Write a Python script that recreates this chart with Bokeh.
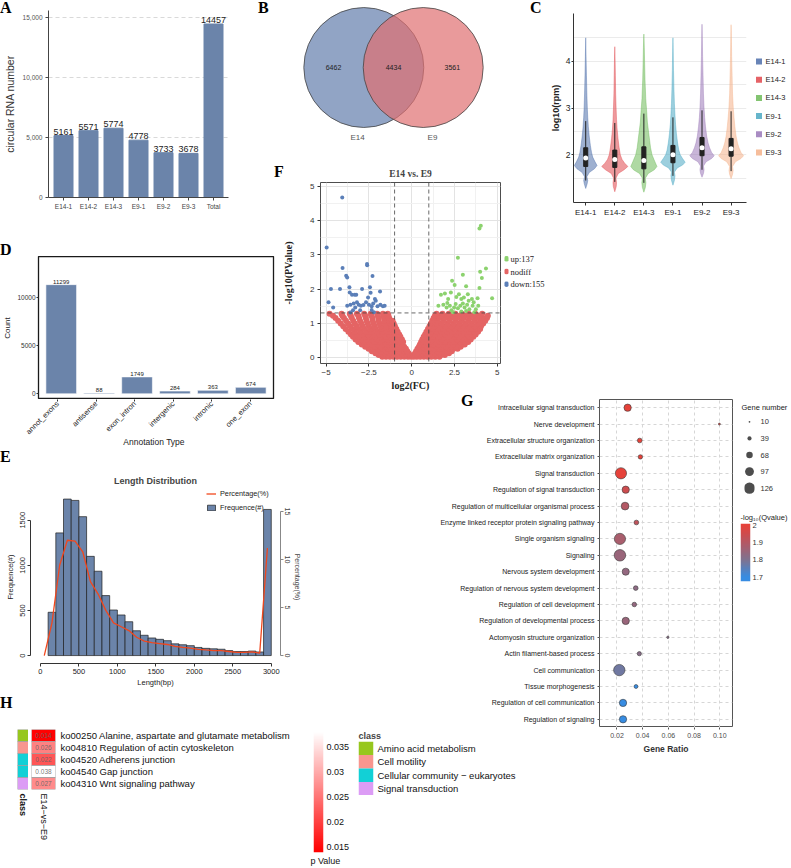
import math
import numpy as np
from bokeh.plotting import figure
from bokeh.layouts import row, column
from bokeh.models import (Div, Spacer, Range1d, FactorRange, FixedTicker, Legend,
                          LegendItem, NumeralTickFormatter, Span, LinearColorMapper,
                          LinearAxis, ColumnDataSource)
from bokeh.core.properties import value
from bokeh.embed import file_html
from bokeh.resources import INLINE

SANS = "Liberation Sans"
SERIF = "Liberation Serif"
BAR = "#6B84AA"

# ---------------- data ----------------
# A
a_cats = ["E14-1", "E14-2", "E14-3", "E9-1", "E9-2", "E9-3", "Total"]
a_vals = [5161, 5571, 5774, 4778, 3733, 3678, 14457]
# B
b_sets = ["E14", "E9"]
b_counts = [6462, 4434, 3561]   # E14 only, shared, E9 only
# C
c_names = ["E14-1", "E14-2", "E14-3", "E9-1", "E9-2", "E9-3"]
c_colors = ["#4E6FAA", "#E0474C", "#6DBA58", "#4BA8C2", "#9A78B8", "#F4B18A"]
c_levels = [
    [1.28, 1.38, 1.45, 1.53, 1.62, 1.70, 1.77, 1.85, 1.95, 2.05, 2.20, 2.40, 2.60, 2.80, 3.00, 3.30, 3.70, 4.10, 4.50],
    [1.21, 1.32, 1.40, 1.50, 1.60, 1.68, 1.75, 1.82, 1.90, 2.00, 2.15, 2.35, 2.55, 2.75, 3.00, 3.30, 3.70, 4.00, 4.31],
    [1.20, 1.30, 1.40, 1.50, 1.60, 1.68, 1.75, 1.85, 2.00, 2.15, 2.30, 2.50, 2.70, 2.90, 3.20, 3.60, 4.00, 4.30, 4.58],
    [1.35, 1.45, 1.55, 1.63, 1.72, 1.78, 1.84, 1.92, 2.00, 2.10, 2.25, 2.45, 2.65, 2.85, 3.10, 3.40, 3.80, 4.20, 4.50],
    [1.52, 1.60, 1.68, 1.76, 1.85, 1.92, 1.98, 2.05, 2.15, 2.25, 2.40, 2.60, 2.80, 3.00, 3.30, 3.70, 4.10, 4.50, 4.79],
    [1.49, 1.58, 1.66, 1.75, 1.85, 1.92, 1.98, 2.05, 2.15, 2.25, 2.40, 2.60, 2.80, 3.00, 3.30, 3.70, 4.10, 4.50, 4.78],
]
c_halfw = [
    [0, 0.05, 0.07, 0.04, 0.12, 0.30, 0.39, 0.32, 0.24, 0.20, 0.16, 0.12, 0.09, 0.07, 0.055, 0.04, 0.025, 0.012, 0],
    [0, 0.05, 0.06, 0.04, 0.12, 0.32, 0.45, 0.34, 0.25, 0.19, 0.15, 0.11, 0.08, 0.06, 0.045, 0.03, 0.02, 0.012, 0],
    [0, 0.05, 0.07, 0.05, 0.15, 0.36, 0.45, 0.38, 0.28, 0.23, 0.20, 0.16, 0.12, 0.10, 0.065, 0.04, 0.025, 0.015, 0],
    [0, 0.05, 0.07, 0.05, 0.15, 0.33, 0.42, 0.33, 0.25, 0.20, 0.16, 0.12, 0.09, 0.07, 0.05, 0.035, 0.02, 0.01, 0],
    [0, 0.05, 0.07, 0.05, 0.14, 0.33, 0.42, 0.33, 0.26, 0.21, 0.16, 0.12, 0.09, 0.07, 0.05, 0.035, 0.02, 0.01, 0],
    [0, 0.05, 0.07, 0.05, 0.15, 0.34, 0.43, 0.34, 0.27, 0.22, 0.17, 0.13, 0.10, 0.075, 0.05, 0.035, 0.02, 0.01, 0],
]
c_q1 = [1.75, 1.73, 1.70, 1.83, 1.98, 1.97]
c_med = [1.93, 1.90, 1.88, 2.00, 2.15, 2.13]
c_q3 = [2.15, 2.10, 2.17, 2.20, 2.37, 2.35]
c_lo = [1.45, 1.42, 1.40, 1.55, 1.68, 1.65]
c_hi = [2.72, 2.68, 2.88, 2.80, 2.95, 2.93]
# D
d_cats = ["annot_exons", "antisense", "exon_intron", "intergenic", "intronic", "one_exon"]
d_vals = [11299, 88, 1749, 284, 363, 674]
# E
e_bin_left = list(range(100, 3000, 100))
e_freq = [480, 1360, 1735, 1720, 1540, 1100, 935, 665, 505, 450, 375, 275, 225, 195, 180,
          165, 130, 120, 110, 90, 80, 75, 70, 55, 45, 45, 50, 40, 1620]
e_pct_x = [50] + [b + 50 for b in e_bin_left]
e_pct = [0, 3.4, 9.4, 12.0, 11.9, 10.8, 7.7, 6.4, 4.7, 3.4, 3.0, 2.6, 1.9, 1.5, 1.35, 1.25,
         1.15, 0.95, 0.85, 0.78, 0.65, 0.58, 0.52, 0.5, 0.42, 0.33, 0.33, 0.38, 0.25, 11.2]
# F
f_down = [(-4.06, 4.68), (-4.97, 3.22), (-4.04, 2.62), (-2.61, 2.73), (-2.6, 2.7), (-3.83, 2.39),
          (-3.77, 2.34), (-2.29, 2.38), (-4.72, 2.0), (-4.19, 2.0), (-3.64, 2.05), (-3.62, 1.9),
          (-2.9, 2.0), (-2.44, 2.05), (-1.85, 1.93), (-2.55, 1.75), (-4.86, 1.61), (-4.59, 1.46),
          (-3.49, 1.83), (-3.33, 1.83), (-3.24, 1.83), (-2.4, 1.89), (-2.15, 1.71), (-2.1, 1.66),
          (-3.77, 1.51), (-3.58, 1.54), (-3.39, 1.58), (-3.2, 1.61), (-3.1, 1.54), (-2.97, 1.51),
          (-2.82, 1.53), (-2.67, 1.61), (-2.5, 1.54), (-2.34, 1.5), (-2.25, 1.58), (-2.0, 1.5),
          (-1.83, 1.54), (-1.68, 1.5), (-1.58, 1.51), (-3.43, 1.38), (-3.3, 1.46), (-3.01, 1.38),
          (-2.34, 1.39), (-2.21, 1.32), (-3.58, 1.31)]
f_up = [(4.04, 3.85), (3.96, 3.77), (2.7, 2.92), (4.34, 2.6), (2.99, 2.42), (4.0, 2.51), (4.1, 2.32),
        (2.36, 2.24), (2.51, 2.12), (3.18, 2.08), (3.96, 2.03), (4.7, 1.73), (1.71, 1.83), (1.94, 1.87),
        (2.13, 1.71), (2.29, 1.9), (2.61, 1.77), (2.76, 1.85), (2.9, 1.71), (3.05, 1.75), (3.28, 1.85),
        (3.52, 1.71), (3.85, 1.73), (1.56, 1.51), (1.85, 1.54), (2.04, 1.46), (2.23, 1.51), (2.32, 1.38),
        (2.48, 1.46), (2.57, 1.56), (2.7, 1.44), (2.84, 1.51), (2.99, 1.58), (3.09, 1.46), (3.24, 1.54),
        (3.37, 1.41), (3.56, 1.51), (3.75, 1.41), (3.89, 1.51), (2.42, 1.32), (2.9, 1.34), (3.18, 1.36),
        (3.66, 1.32), (2.08, 1.59), (3.33, 1.66), (3.62, 1.61)]
f_nodiff_rows = [
    (0.02, [-1.72, -1.5, -1.28, -1.06, -0.85, -0.64, -0.43, -0.22, -0.04, 0.12, 0.3, 0.5, 0.71, 0.93, 1.15, 1.38, 1.62]),
    (0.07, [-1.93, -1.66, -1.4, -1.15, -0.92, -0.7, -0.48, -0.27, -0.12, 0.12, 0.3, 0.52, 0.75, 0.98, 1.22, 1.47, 1.72, 1.94]),
    (0.12, [-2.12, -1.86, -1.58, -1.3, -1.04, -0.8, -0.58, -0.36, -0.18, 0.2, 0.4, 0.62, 0.86, 1.1, 1.36, 1.62, 1.9, 2.18]),
    (0.18, [-2.33, -2.05, -1.76, -1.48, -1.2, -0.94, -0.7, -0.46, -0.26, 0.26, 0.48, 0.72, 0.97, 1.23, 1.5, 1.78, 2.06, 2.34]),
    (0.25, [-2.52, -2.24, -1.95, -1.66, -1.38, -1.1, -0.84, -0.58, -0.34, 0.34, 0.56, 0.8, 1.06, 1.33, 1.6, 1.88, 2.16, 2.44, 2.68]),
    (0.31, [-2.72, -2.42, -2.12, -1.82, -1.53, -1.25, -0.97, -0.7, -0.44, 0.42, 0.66, 0.92, 1.18, 1.45, 1.73, 2.01, 2.3, 2.58, 2.86]),
    (0.38, [-2.92, -2.6, -2.3, -2.0, -1.7, -1.41, -1.12, -0.84, -0.57, 0.48, 0.74, 1.0, 1.27, 1.55, 1.83, 2.12, 2.41, 2.7, 2.98, 3.1]),
    (0.45, [-3.12, -2.8, -2.48, -2.17, -1.86, -1.56, -1.27, -0.98, -0.7, -0.5, 0.55, 0.82, 1.1, 1.38, 1.67, 1.96, 2.25, 2.55, 2.85, 3.14, 3.3]),
    (0.52, [-3.28, -2.96, -2.64, -2.32, -2.0, -1.7, -1.4, -1.11, -0.83, -0.57, 0.62, 0.9, 1.18, 1.47, 1.76, 2.06, 2.36, 2.66, 2.96, 3.25, 3.45]),
    (0.60, [-3.43, -3.1, -2.78, -2.46, -2.14, -1.83, -1.52, -1.22, -0.93, -0.66, 0.7, 0.98, 1.27, 1.57, 1.87, 2.17, 2.48, 2.79, 3.1, 3.38, 3.6]),
    (0.67, [-3.55, -3.2, -2.86, -2.53, -2.21, -1.9, -1.59, -1.29, -1.0, -0.73, 0.78, 1.06, 1.36, 1.66, 1.97, 2.28, 2.6, 2.92, 3.24, 3.52, 3.74]),
    (0.75, [-3.7, -3.34, -3.0, -2.66, -2.33, -2.01, -1.7, -1.39, -1.09, -0.82, 0.86, 1.15, 1.45, 1.76, 2.08, 2.4, 2.72, 3.04, 3.36, 3.66, 3.88]),
    (0.83, [-3.86, -3.48, -3.12, -2.77, -2.43, -2.1, -1.77, -1.46, -1.16, -0.9, 0.95, 1.25, 1.56, 1.88, 2.2, 2.53, 2.86, 3.19, 3.52, 3.82, 4.0]),
    (0.91, [-4.0, -3.6, -3.22, -2.86, -2.5, -2.16, -1.83, -1.51, -1.22, -0.98, 1.04, 1.34, 1.66, 1.99, 2.32, 2.66, 3.0, 3.34, 3.68, 4.05]),
    (0.99, [-4.15, -3.72, -3.32, -2.94, -2.57, -2.22, -1.88, -1.56, -1.26, -1.05, 1.12, 1.43, 1.76, 2.1, 2.45, 2.8, 3.15, 3.5, 3.85, 4.18]),
    (1.07, [-4.3, -3.84, -3.42, -3.02, -2.64, -2.28, -1.93, -1.6, -1.3, -1.12, 1.2, 1.52, 1.86, 2.21, 2.57, 2.93, 3.3, 3.66, 4.0, 4.3]),
    (1.15, [-4.45, -3.96, -3.5, -3.08, -2.68, -2.3, -1.95, -1.62, -1.32, 1.28, 1.6, 1.95, 2.3, 2.66, 3.03, 3.4, 3.78, 4.16, 4.4]),
    (1.22, [-4.6, -4.05, -3.56, -3.12, -2.72, -2.35, -1.98, -1.64, -1.36, 1.36, 1.7, 2.06, 2.43, 2.8, 3.18, 3.56, 3.95, 4.45]),
    (1.28, [-4.8, -4.1, -3.62, -3.2, -2.78, -2.4, -2.02, -1.68, -1.4, 1.45, 1.8, 2.17, 2.55, 2.94, 3.33, 3.72, 4.12]),
]
f_legend = ["up:137", "nodiff", "down:155"]
# G
g_terms = ["Intracellular signal transduction", "Nerve development",
           "Extracellular structure organization", "Extracellular matrix organization",
           "Signal transduction", "Regulation of signal transduction",
           "Regulation of multicellular organismal process",
           "Enzyme linked receptor protein signaling pathway", "Single organism signaling",
           "Signaling", "Nervous system development", "Regulation of nervous system development",
           "Regulation of cell development", "Regulation of developmental process",
           "Actomyosin structure organization", "Actin filament-based process",
           "Cell communication", "Tissue morphogenesis", "Regulation of cell communication",
           "Regulation of signaling"]
g_ratio = [0.0283, 0.0997, 0.0377, 0.0382, 0.0231, 0.0268, 0.0263, 0.0351, 0.0223, 0.0223,
           0.0268, 0.0346, 0.0335, 0.0268, 0.0596, 0.0374, 0.0218, 0.0348, 0.0247, 0.0247]
g_count = [78, 13, 46, 42, 126, 78, 84, 46, 126, 130, 76, 46, 44, 78, 17, 40, 128, 36, 78, 78]
g_q = [2.0, 1.97, 2.0, 2.0, 2.0, 1.95, 1.9, 1.92, 1.88, 1.85, 1.84, 1.83, 1.84, 1.85, 1.82,
       1.82, 1.78, 1.7, 1.7, 1.7]
g_size_legend = [10, 39, 68, 97, 126]
g_q_ticks = [1.7, 1.8, 1.9, 2.0]
# H
h_terms = ["ko00250 Alanine, aspartate and glutamate metabolism",
           "ko04810 Regulation of actin cytoskeleton",
           "ko04520 Adherens junction", "ko04540 Gap junction", "ko04310 Wnt signaling pathway"]
h_class = ["Amino acid metabolism", "Cell motility", "Cellular community \u2212 eukaryotes",
           "Cellular community \u2212 eukaryotes", "Signal transduction"]
h_p = [0.014, 0.026, 0.022, 0.038, 0.027]
h_classes = ["Amino acid metabolism", "Cell motility", "Cellular community \u2212 eukaryotes",
             "Signal transduction"]
h_class_colors = ["#97C71E", "#F8968F", "#12D0D6", "#DC9CF5"]
h_col = "E14\u2212vs\u2212E9"
h_p_ticks = [0.015, 0.02, 0.025, 0.03, 0.035]


# ---------------- helpers ----------------
def mk(w, h, mb, **kw):
    p = figure(width=w, height=h, output_backend="svg", toolbar_location=None,
               min_border_left=mb[0], min_border_right=mb[1],
               min_border_top=mb[2], min_border_bottom=mb[3], **kw)
    p.background_fill_color = None
    p.border_fill_color = None
    p.outline_line_color = None
    p.grid.visible = False
    return p


def W(p):
    # wrap a figure so that rows/columns do not align its borders with its siblings
    return column(p)


def sp(w, h):
    return Spacer(width=w, height=h)


def style_axis(ax, font=SANS, size="7px", color="#333", line=None, tick=None, tick_out=0,
               standoff=3, label_size=None, label_style="normal", label_color="#222",
               label_standoff=3, label_font=None):
    ax.major_label_text_font = font
    ax.major_label_text_font_size = size
    ax.major_label_text_color = color
    ax.axis_line_color = line
    ax.major_tick_line_color = tick if tick_out else None
    ax.major_tick_out = tick_out
    ax.major_tick_in = 0
    ax.minor_tick_line_color = None
    ax.major_label_standoff = standoff
    ax.axis_label_text_font = label_font or font
    ax.axis_label_text_font_size = label_size or size
    ax.axis_label_text_font_style = label_style
    ax.axis_label_text_color = label_color
    ax.axis_label_standoff = label_standoff


def side_legend(fw, fh, labels, mbr, mbt=0, mbl=0, mbb=0, font=SANS, size="7.5px",
                color="#222", standoff=3, **kw):
    p = mk(mbl + fw + mbr, mbt + fh + mbb, (mbl, mbr, mbt, mbb),
           x_range=Range1d(-1, 1), y_range=FactorRange(*reversed(labels)),
           x_axis_location=None, y_axis_location="right", **kw)
    style_axis(p.yaxis[0], font=font, size=size, color=color, standoff=standoff)
    return p


def ramp(stops, n=256):
    out = []
    for i in range(n):
        t = i / (n - 1)
        for (t0, c0), (t1, c1) in zip(stops[:-1], stops[1:]):
            if t0 <= t <= t1:
                f = (t - t0) / (t1 - t0) if t1 > t0 else 0
                rgb = [round(a + (b - a) * f) for a, b in zip(c0, c1)]
                out.append("#%02x%02x%02x" % tuple(rgb))
                break
    return out


def letter(t, w=16, h=16, mt=0, mr=0, mb=0, ml=0):
    return Div(text=t, width=w, height=h, margin=(mt, mr, mb, ml),
               styles={"font-family": SERIF, "font-weight": "bold", "font-size": "16px",
                       "line-height": "16px", "color": "#000"})


# ---------------- A ----------------
pa = mk(232, 217, (48, 4, 10, 20),
        x_range=FactorRange(*a_cats, range_padding=0.1, range_padding_units="absolute"),
        y_range=Range1d(0, 15583))
pa.ygrid.visible = True
pa.ygrid.grid_line_color = "#d9d9d9"
pa.ygrid.grid_line_dash = "4 3"
pa.vbar(x=a_cats, top=a_vals, width=0.76, fill_color=BAR, line_color=BAR)
pa.text(x=a_cats, y=a_vals, text=[str(v) for v in a_vals], text_align="center",
        text_baseline="bottom", y_offset=-1, text_font=value(SANS), text_font_size="9px",
        text_color="#222")
ya = pa.yaxis[0]
ya.ticker = FixedTicker(ticks=[0, 5000, 10000, 15000])
ya.formatter = NumeralTickFormatter(format="0,0")
ya.axis_label = "circular RNA number"
style_axis(ya, size="6.5px", color="#555", line="#444", tick="#444", tick_out=3, standoff=3,
           label_size="10.5px", label_color="#333", label_standoff=4)
style_axis(pa.xaxis[0], size="6.5px", color="#444", line="#444", tick="#444", tick_out=3, standoff=2)

# ---------------- B ----------------
pb = mk(200, 150, (0, 0, 0, 0), x_range=Range1d(-1.717, 1.617),
        y_range=Range1d(-1.383, 1.117), x_axis_location=None, y_axis_location=None)
sep = 0.495
pb.circle(x=[-sep], y=[0], radius=1, fill_color="#627EAC", fill_alpha=0.7,
          line_color="#444", line_width=0.8)
pb.circle(x=[sep], y=[0], radius=1, fill_color="#DF6F70", fill_alpha=0.7,
          line_color="#444", line_width=0.8)
pb.text(x=[-2 * sep - 0.01, 0, 2 * sep - 0.01], y=[0, 0, 0], text=[str(v) for v in b_counts],
        text_align="center", text_baseline="middle", text_font=value(SANS),
        text_font_size="7px", text_color="#222")
pb.text(x=[-0.6, 0.65], y=[-1.17, -1.17], text=b_sets, text_align="center",
        text_baseline="middle", text_font=value(SANS), text_font_size="8px", text_color="#555")

# ---------------- C ----------------
pc = mk(208, 222, (23, 9, 13, 20), x_range=Range1d(-0.42, 5.53), y_range=Range1d(0.98, 5.02))
pc.ygrid.visible = True
pc.ygrid.ticker = FixedTicker(ticks=[1.5, 2, 2.5, 3, 3.5, 4, 4.5])
pc.ygrid.grid_line_color = "#ebebeb"
for i, (ys, ws) in enumerate(zip(c_levels, c_halfw)):
    xs = [i + w for w in ws] + [i - w for w in reversed(ws)]
    yy = list(ys) + list(reversed(ys))
    pc.patch(xs, yy, fill_color=c_colors[i], fill_alpha=0.55, line_color=c_colors[i],
             line_alpha=0.7, line_width=0.6)
idx = list(range(len(c_names)))
pc.segment(x0=idx, x1=idx, y0=c_lo, y1=c_hi, line_color="#222", line_width=1)
pc.vbar(x=idx, bottom=c_q1, top=c_q3, width=0.14, fill_color="#222", line_color="#222")
pc.scatter(x=idx, y=c_med, size=5, fill_color="white", line_color=None)
xc = pc.xaxis[0]
xc.ticker = FixedTicker(ticks=idx)
xc.major_label_overrides = {i: n for i, n in enumerate(c_names)}
style_axis(xc, size="8px", color="#222", line="#333", tick="#333", tick_out=3, standoff=2)
yc = pc.yaxis[0]
yc.ticker = FixedTicker(ticks=[2, 3, 4])
yc.axis_label = "log10(rpm)"
style_axis(yc, size="8.5px", color="#222", line="#333", tick="#333", tick_out=2, standoff=1,
           label_size="9px", label_style="bold", label_standoff=2)

pcl = side_legend(7, 109, c_names, mbr=29, size="7.5px", color="#222", standoff=3)
pcl.scatter(x=[0] * 6, y=c_names, marker="square", size=6, fill_color=c_colors,
            fill_alpha=0.85, line_color=None)

# ---------------- D ----------------
d_xr = FactorRange(*d_cats, range_padding=0.1, range_padding_units="absolute")
pdd = mk(278, 143, (34, 5, 0, 0), x_range=d_xr, y_range=Range1d(-590, 14210),
         x_axis_location=None)
pdd.outline_line_color = "#1a1a1a"
pdd.outline_line_width = 1.3
pdd.vbar(x=d_cats, top=d_vals, width=0.81, fill_color=BAR, line_color="white", line_width=0.6)
pdd.text(x=d_cats, y=d_vals, text=[str(v) for v in d_vals], text_align="center",
         text_baseline="bottom", y_offset=-1, text_font=value(SANS), text_font_size="6px",
         text_color="#222")
yd = pdd.yaxis[0]
yd.ticker = FixedTicker(ticks=[0, 5000, 10000])
yd.axis_label = "Count"
style_axis(yd, size="6.5px", color="#333", line=None, tick="#333", tick_out=2,
           standoff=1, label_size="8px", label_standoff=2)
pdx = mk(278, 47, (34, 5, 0, 46), x_range=d_xr, y_range=Range1d(0, 1), y_axis_location=None)
xd = pdx.xaxis[0]
xd.axis_label = "Annotation Type"
xd.major_label_orientation = math.pi / 4
style_axis(xd, size="7.5px", color="#222", line=None, tick="#333", tick_out=2,
           standoff=1, label_size="8.5px", label_standoff=-5)

# ---------------- E ----------------
E_LINE = "#F2471D"
pe = mk(303, 224, (30, 21, 22, 29), x_range=Range1d(-129, 3120), y_range=Range1d(-88, 1830))
pe.extra_y_ranges = {"pct": Range1d(-0.83, 17.18)}
pe.title.text = "Length Distribution"
pe.title.align = "center"
pe.title.text_font = SANS
pe.title.text_font_size = "9px"
pe.title.text_font_style = "bold"
pe.title.standoff = 10
e_bars = pe.quad(left=e_bin_left, right=[b + 100 for b in e_bin_left], bottom=0, top=e_freq,
                 fill_color=BAR, line_color="#1f1f1f", line_width=0.7)
e_line = pe.line(x=e_pct_x, y=e_pct, y_range_name="pct", line_color=E_LINE, line_width=1.3)
ye = pe.yaxis[0]
ye.bounds = (0, 1500)
ye.ticker = FixedTicker(ticks=[0, 500, 1000, 1500])
ye.major_label_orientation = "vertical"
ye.axis_label = "Frequence(#)"
style_axis(ye, size="7.5px", color="#222", line="#333", tick="#333", tick_out=3, standoff=2,
           label_size="7.5px", label_standoff=3)
xe = pe.xaxis[0]
xe.bounds = (0, 3000)
xe.ticker = FixedTicker(ticks=[0, 500, 1000, 1500, 2000, 2500, 3000])
xe.axis_label = "Length(bp)"
style_axis(xe, size="7.5px", color="#222", line="#333", tick="#333", tick_out=3, standoff=2,
           label_size="7.5px", label_standoff=1)
re_ = LinearAxis(y_range_name="pct", bounds=(0, 15), ticker=FixedTicker(ticks=[0, 5, 10, 15]),
                 axis_label="Percentage(%)")
re_.major_label_orientation = "vertical"
style_axis(re_, size="7px", color="#444", line="#888", tick="#888", tick_out=3, standoff=1,
           label_size="7px", label_color="#444", label_standoff=1)
pe.add_layout(re_, "right")
e_leg = Legend(items=[LegendItem(label="Percentage(%)", renderers=[e_line]),
                      LegendItem(label="Frequence(#)", renderers=[e_bars])],
               location=(176, 151), glyph_width=10, glyph_height=7, label_height=10, spacing=4,
               label_standoff=4, padding=0, margin=0, border_line_color=None,
               background_fill_alpha=0, label_text_font=SANS, label_text_font_size="7.3px",
               label_text_color="#222")
pe.add_layout(e_leg)

# ---------------- F ----------------
F_ND, F_UP, F_DOWN = "#E46464", "#8CD26E", "#5B7FB8"
pf = mk(224, 233, (36, 4, 22, 30), x_range=Range1d(-5.33, 5.19), y_range=Range1d(-0.18, 5.12))
pf.title.text = "E14 vs. E9"
pf.title.align = "center"
pf.title.text_font = SERIF
pf.title.text_font_size = "9.5px"
pf.title.text_font_style = "bold"
pf.title.standoff = 7
pf.outline_line_color = "#4d4d4d"
pf.outline_line_width = 1
pf.background_fill_color = "white"
fx_t = FixedTicker(ticks=[-5, -2.5, 0, 2.5, 5], minor_ticks=[-3.75, -1.25, 1.25, 3.75])
fy_t = FixedTicker(ticks=[0, 1, 2, 3, 4, 5], minor_ticks=[0.5, 1.5, 2.5, 3.5, 4.5])
pf.xaxis[0].ticker = fx_t
pf.yaxis[0].ticker = fy_t
for g, t in ((pf.xgrid[0], fx_t), (pf.ygrid[0], fy_t)):
    g.visible = True
    g.ticker = t
    g.grid_line_color = "#e3e3e3"
    g.minor_grid_line_color = "#f1f1f1"
nd_x = [x for y, xs in f_nodiff_rows for x in xs]
nd_y = [y for y, xs in f_nodiff_rows for x in xs]
pf.scatter(x=nd_x, y=nd_y, size=6, fill_color=F_ND, line_color=None)
pf.scatter(x=[p[0] for p in f_up], y=[p[1] for p in f_up], size=4, fill_color=F_UP, line_color=None)
pf.scatter(x=[p[0] for p in f_down], y=[p[1] for p in f_down], size=4, fill_color=F_DOWN,
           line_color=None)
for loc, dim in ((-1, "height"), (1, "height"), (1.301, "width")):
    pf.add_layout(Span(location=loc, dimension=dim, line_color="#444", line_dash="4 3",
                       line_width=0.8))
pf.xaxis[0].axis_label = "log2(FC)"
style_axis(pf.xaxis[0], size="8px", color="#333", line=None, tick="#333", tick_out=3,
           standoff=2, label_size="10px", label_style="bold", label_font=SERIF, label_standoff=2)
pf.yaxis[0].axis_label = "-log10(PValue)"
style_axis(pf.yaxis[0], size="8px", color="#333", line=None, tick="#333", tick_out=3,
           standoff=2, label_size="10px", label_style="bold", label_font=SERIF, label_standoff=13)

pfl = side_legend(6, 38, f_legend, mbr=37, font=SERIF, size="8.5px", color="#222", standoff=2)
pfl.scatter(x=[0, 0, 0], y=f_legend, size=5.5, fill_color=[F_UP, F_ND, F_DOWN], line_color=None)

# ---------------- G ----------------
g_pal = ramp([(0.0, (55, 140, 226)), (0.33, (126, 115, 145)), (0.67, (180, 88, 100)),
              (1.0, (230, 66, 58))])
g_mapper = LinearColorMapper(palette=g_pal, low=1.7, high=2.0)


def gsize(n):
    return 0.95 + 0.0815 * n


g_xr = Range1d(0.0064, 0.1099)
g_xt = FixedTicker(ticks=[0.02, 0.04, 0.06, 0.08, 0.10])
pg = mk(303, 328, (168, 2, 0, 0), x_range=g_xr, y_range=FactorRange(*reversed(g_terms)),
        x_axis_location=None)
pg.outline_line_color = "#555"
pg.xgrid[0].ticker = g_xt
for g in (pg.xgrid[0], pg.ygrid[0]):
    g.visible = True
    g.grid_line_color = "#d6d6d6"
    g.grid_line_dash = "3 3"
gsrc = ColumnDataSource(dict(x=g_ratio, y=g_terms, s=[gsize(n) for n in g_count], q=g_q))
pg.scatter(x="x", y="y", size="s", source=gsrc,
           fill_color={"field": "q", "transform": g_mapper}, line_color="#3a3a3a",
           line_width=0.6)
style_axis(pg.yaxis[0], size="7px", color="#1a1a1a", line=None, tick="#555", tick_out=2,
           standoff=3)

pgx = mk(149, 28, (8, 8, 0, 27), x_range=g_xr, y_range=Range1d(0, 1), y_axis_location=None)
xg = pgx.xaxis[0]
xg.ticker = g_xt
xg.formatter = NumeralTickFormatter(format="0.00")
xg.axis_label = "Gene Ratio"
style_axis(xg, size="7px", color="#4d4d4d", line=None, tick="#555", tick_out=2, standoff=3,
           label_size="8.5px", label_style="bold", label_color="#333", label_standoff=3)

pgs = side_legend(10, 85, [str(v) for v in g_size_legend], mbr=37, mbt=12, mbl=8,
                  size="7.5px", color="#333", standoff=6)
pgs.title.text = "Gene number"
pgs.title.text_font = SANS
pgs.title.text_font_size = "7.5px"
pgs.title.text_font_style = "normal"
pgs.title.text_color = "#222"
pgs.title.offset = -3
pgs.title.standoff = 3
pgs.scatter(x=[0] * len(g_size_legend), y=[str(v) for v in g_size_legend],
            size=[gsize(v) for v in g_size_legend], fill_color="#4d4d4d", line_color=None)

g_lo, g_hi = 1.675, 2.012
pgc = mk(55, 78, (4, 41, 18, 2), x_range=Range1d(0, 1), y_range=Range1d(g_lo, g_hi),
         x_axis_location=None, y_axis_location="right")
pgc.title.text = "-log\u2081\u2080(Qvalue)"
pgc.title.text_font = SANS
pgc.title.text_font_size = "7.5px"
pgc.title.text_font_style = "normal"
pgc.title.text_color = "#222"
pgc.title.standoff = 3
pgc.image(image=[np.linspace(g_lo, g_hi, 120).reshape(-1, 1)], x=0, y=g_lo, dw=1,
          dh=g_hi - g_lo, color_mapper=g_mapper)
ygc = pgc.yaxis[0]
ygc.ticker = FixedTicker(ticks=g_q_ticks)
ygc.major_label_overrides = {2: "2"}
style_axis(ygc, size="7.5px", color="#333", standoff=2)

# ---------------- H ----------------
h_pal = ramp([(0.0, (255, 0, 0)), (1.0, (255, 255, 255))])
h_lo, h_hi = 0.0138, 0.038
h_mapper = LinearColorMapper(palette=h_pal, low=h_lo, high=h_hi)

phc = mk(11, 90, (0, 0, 0, 30), x_range=FactorRange("class"),
         y_range=FactorRange(*reversed(h_terms)), y_axis_location=None)
cmap = dict(zip(h_classes, h_class_colors))
phc.rect(x=["class"] * len(h_terms), y=h_terms, width=1, height=1,
         fill_color=[cmap[c] for c in h_class], line_color="#a0a0a0", line_width=0.8)
xhc = phc.xaxis[0]
xhc.major_label_orientation = -math.pi / 2
style_axis(xhc, size="9px", color="#111", standoff=4)
xhc.major_label_text_font_style = "bold"

ph = mk(279, 117, (0, 255, 0, 57), x_range=FactorRange(h_col),
        y_range=FactorRange(*reversed(h_terms)), y_axis_location="right")
hsrc = ColumnDataSource(dict(x=[h_col] * len(h_terms), y=h_terms, p=h_p,
                             t=["%.3f" % v for v in h_p]))
ph.rect(x="x", y="y", width=1, height=1, source=hsrc,
        fill_color={"field": "p", "transform": h_mapper}, line_color="#a0a0a0", line_width=0.8)
ph.text(x="x", y="y", text="t", source=hsrc, text_align="center", text_baseline="middle",
        text_font=value(SANS), text_font_size="6.5px", text_color="#666", text_alpha=0.9)
xh = ph.xaxis[0]
xh.major_label_orientation = -math.pi / 2
style_axis(xh, size="9px", color="#111", standoff=4)
style_axis(ph.yaxis[0], size="9.5px", color="#111", standoff=5)

phb = mk(47, 140, (3, 34, 4, 15), x_range=Range1d(0, 1), y_range=Range1d(h_lo, h_hi),
         x_axis_location=None, y_axis_location="right", title_location="below")
phb.image(image=[np.linspace(h_lo, h_hi, 160).reshape(-1, 1)], x=0, y=h_lo, dw=1,
          dh=h_hi - h_lo, color_mapper=h_mapper)
phb.title.text = "p Value"
phb.title.text_font = SANS
phb.title.text_font_size = "9px"
phb.title.text_font_style = "normal"
phb.title.text_color = "#111"
phb.title.offset = -3
phb.title.standoff = 2
yhb = phb.yaxis[0]
yhb.ticker = FixedTicker(ticks=h_p_ticks)
yhb.major_label_overrides = {v: ("%g" % v) for v in h_p_ticks}
style_axis(yhb, size="9px", color="#111", standoff=3)

phl = side_legend(15, 57, h_classes, mbr=148, mbt=11, size="9.5px", color="#111", standoff=4)
phl.title.text = "class"
phl.title.text_font = SANS
phl.title.text_font_size = "9px"
phl.title.text_font_style = "bold"
phl.title.standoff = 2
phl.rect(x=[0] * len(h_classes), y=h_classes, width=2, height=1, fill_color=h_class_colors,
         line_color=None)

# ---------------- layout ----------------
a_block = row(column(letter("A", mb=-16), W(pa)), sp(26, 1),
              column(letter("B", 20), sp(1, 148), letter("F", 10, ml=16, mr=-4)))
L1 = column(a_block, sp(1, 25), letter("D", mb=-2), W(pdd))
b_row = row(sp(10, 1), W(pb), sp(40, 1), letter("C", 17))
f_row = row(W(pf), column(sp(1, 92), W(pfl)))
g_row = row(sp(181, 1), letter("G", mb=-10))
midcol = column(b_row, sp(1, 10), f_row, g_row)
rightcol = row(W(pc), column(sp(1, 52), W(pcl)))
band1 = row(L1, midcol, rightcol)

L2 = column(W(pdx), sp(1, 3), letter("E"), sp(1, 3), W(pe), sp(1, 3), letter("H"), sp(1, 16))
band2 = row(L2, sp(128, 1), W(pg), sp(2, 1), column(W(pgs), sp(1, 9), W(pgc)))

lower = row(sp(17, 1), column(sp(1, 2), W(phc)), sp(3, 1), column(sp(1, 2), W(ph)), W(phb),
            sp(1, 1), W(phl), sp(70, 1), W(pgx))

root = column(band1, band2, lower)
open("out.html", "w").write(file_html(root, INLINE))
